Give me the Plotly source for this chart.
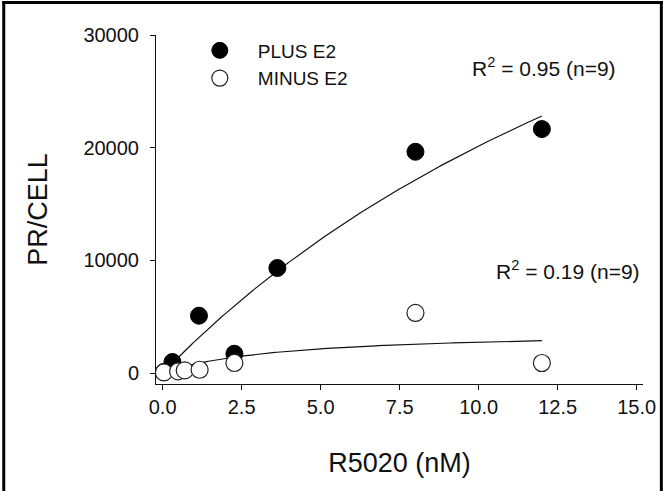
import numpy as np
import plotly.graph_objects as go

# ---- data ----
x_plus = [0.04, 0.31, 1.15, 2.27, 3.63, 8.0, 12.0]
y_plus = [90, 976, 5085, 1710, 9317, 19636, 21650]
x_minus = [0.04, 0.49, 0.70, 1.17, 2.27, 8.0, 12.0]
y_minus = [50, 140, 230, 290, 890, 5330, 887]

# one-site saturation fits (Bmax, Kd)
fit_plus = (66900, 23.2)
fit_minus = (3769, 3.78)
fit_x_max = 12.0

x_ticks = [0, 2.5, 5, 7.5, 10, 12.5, 15]
y_ticks = [0, 10000, 20000, 30000]

labels = ["PLUS E2", "MINUS E2"]
r2_texts = ["R<sup>2</sup> = 0.95 (n=9)", "R<sup>2</sup> = 0.19 (n=9)"]

FONT = "Liberation Sans, Arial, sans-serif"
INK = "#111111"

xf = np.linspace(0, fit_x_max, 200)

def hyper(p, x):
    return p[0] * x / (p[1] + x)

fig = go.Figure()
fig.add_trace(go.Scatter(x=xf, y=hyper(fit_plus, xf), mode="lines",
                         line=dict(color=INK, width=1.2), showlegend=False, hoverinfo="skip"))
fig.add_trace(go.Scatter(x=xf, y=hyper(fit_minus, xf), mode="lines",
                         line=dict(color=INK, width=1.2), showlegend=False, hoverinfo="skip"))
fig.add_trace(go.Scatter(x=x_plus, y=y_plus, mode="markers", name=labels[0],
                         marker=dict(symbol="circle", size=17, color="black",
                                     line=dict(color="black", width=1))))
fig.add_trace(go.Scatter(x=x_minus, y=y_minus, mode="markers", name=labels[1],
                         marker=dict(symbol="circle", size=17, color="white",
                                     line=dict(color="#222222", width=1.2))))

fig.add_annotation(x=0.796, y=0.909, xref="paper", yref="paper", text=r2_texts[0],
                   xanchor="center", yanchor="middle",
                   showarrow=False, font=dict(size=21, color=INK, family=FONT))
fig.add_annotation(x=0.845, y=0.327, xref="paper", yref="paper", text=r2_texts[1],
                   xanchor="center", yanchor="middle",
                   showarrow=False, font=dict(size=21, color=INK, family=FONT))

# outer frame around the figure, drawn as thin filled bars (left, top, right)
def px_x(p):
    return (p - 156) / 491

def px_y(p):
    return (384 - p) / 349

for x0, y0, x1, y1 in [(1, 1, 4, 520), (1, 1, 667, 4), (664, 1, 667, 520)]:
    fig.add_shape(type="rect", xref="paper", yref="paper",
                  x0=px_x(x0), x1=px_x(x1), y0=px_y(y1), y1=px_y(y0),
                  fillcolor="black", line=dict(width=0), layer="above")

fig.update_layout(
    width=668, height=491,
    margin=dict(l=156, r=21, t=35, b=107),
    paper_bgcolor="white", plot_bgcolor="white",
    font=dict(family=FONT, color=INK, size=19),
    showlegend=True,
    legend=dict(x=0.053, y=1.01, xanchor="left", yanchor="top",
                bgcolor="rgba(0,0,0,0)", font=dict(size=19, family=FONT, color=INK),
                itemwidth=66, tracegroupgap=0, traceorder="normal"),
    xaxis=dict(range=[-0.21, 15.2], tickvals=x_ticks, tickformat=".1f",
               showgrid=False, zeroline=False, showline=True, linecolor=INK, linewidth=1,
               ticks="outside", ticklen=5, tickcolor=INK, tickfont=dict(size=20),
               title=dict(text="R5020 (nM)", font=dict(size=27), standoff=36)),
    yaxis=dict(range=[-976, 30000], tickvals=y_ticks, tickformat="d",
               showgrid=False, zeroline=False, showline=True, linecolor=INK, linewidth=1,
               ticks="outside", ticklen=5, tickcolor=INK, tickfont=dict(size=20),
               ticklabelstandoff=7,
               title=dict(text="PR/CELL", font=dict(size=27), standoff=27)),
)

fig.write_html("out.html", config={"displayModeBar": False},
               post_script="document.body.style.margin='0px';")
